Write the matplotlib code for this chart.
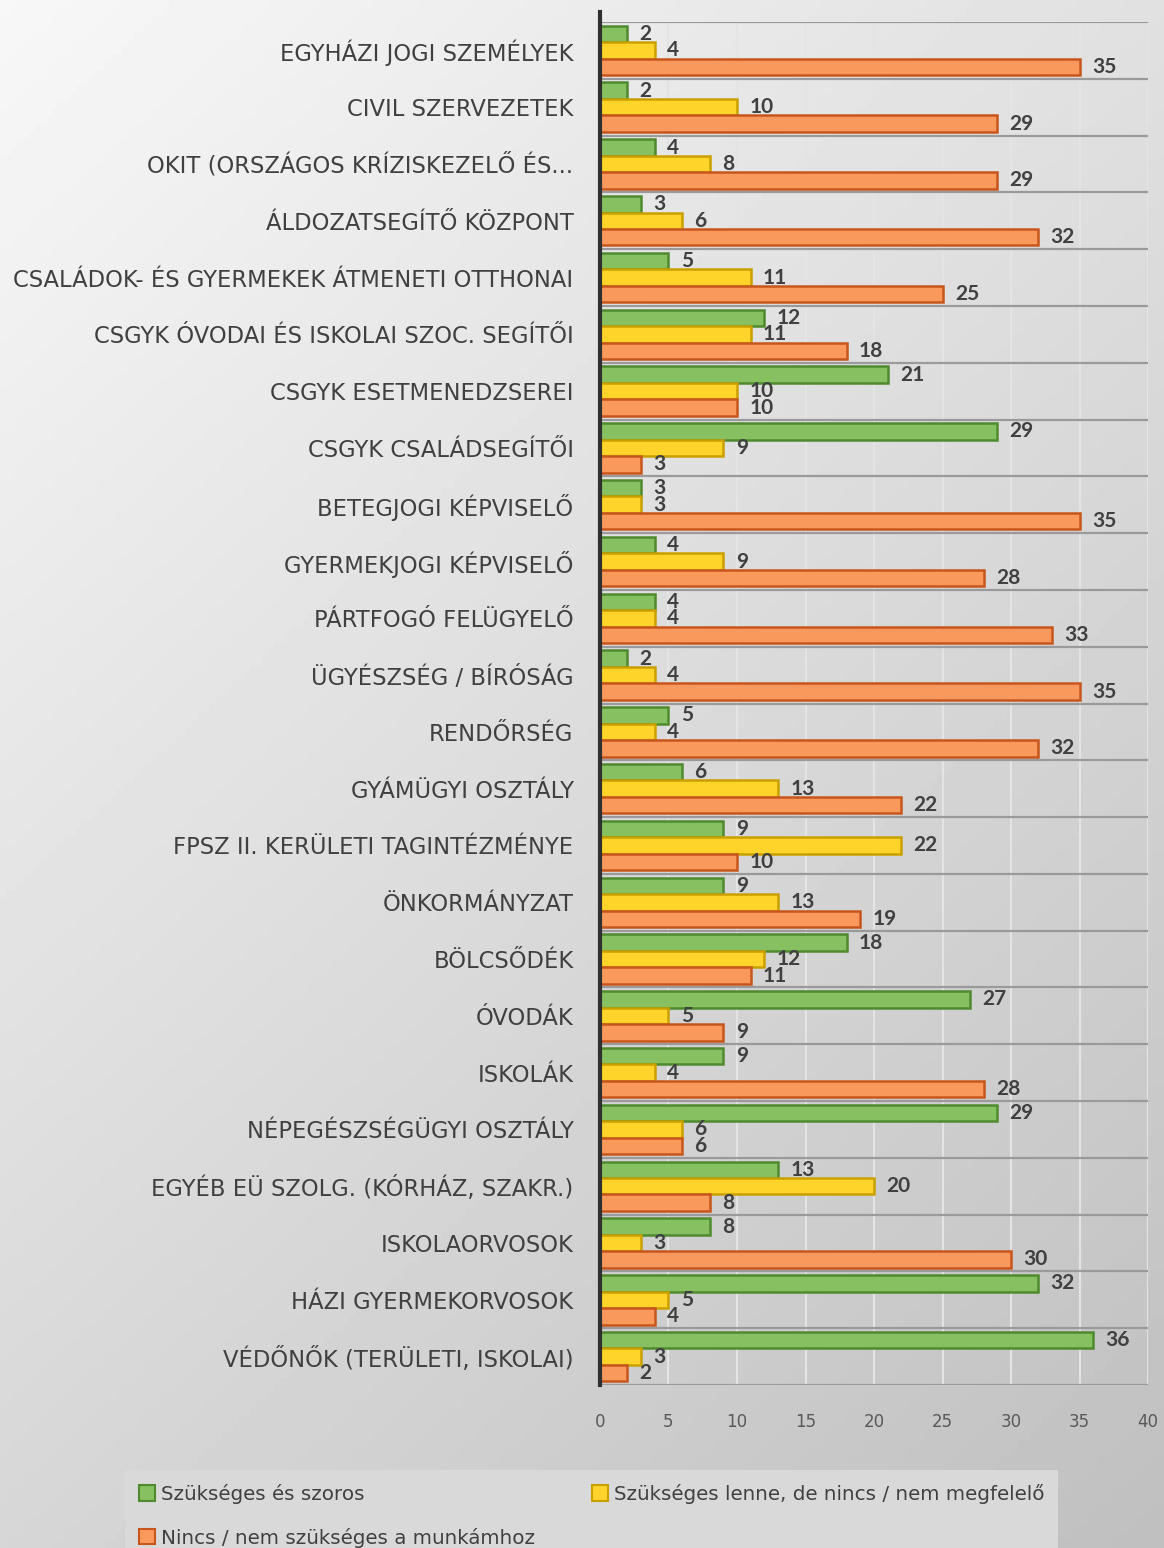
import numpy as np
import matplotlib
matplotlib.use("Agg")
import matplotlib.pyplot as plt
from matplotlib.patches import Patch

# data, top to bottom as in the chart
categories = [
    "EGYHÁZI JOGI SZEMÉLYEK",
    "CIVIL SZERVEZETEK",
    "OKIT (ORSZÁGOS KRÍZISKEZELŐ ÉS...",
    "ÁLDOZATSEGÍTŐ KÖZPONT",
    "CSALÁDOK- ÉS GYERMEKEK ÁTMENETI OTTHONAI",
    "CSGYK ÓVODAI ÉS ISKOLAI SZOC. SEGÍTŐI",
    "CSGYK ESETMENEDZSEREI",
    "CSGYK CSALÁDSEGÍTŐI",
    "BETEGJOGI KÉPVISELŐ",
    "GYERMEKJOGI KÉPVISELŐ",
    "PÁRTFOGÓ FELÜGYELŐ",
    "ÜGYÉSZSÉG / BÍRÓSÁG",
    "RENDŐRSÉG",
    "GYÁMÜGYI OSZTÁLY",
    "FPSZ II. KERÜLETI TAGINTÉZMÉNYE",
    "ÖNKORMÁNYZAT",
    "BÖLCSŐDÉK",
    "ÓVODÁK",
    "ISKOLÁK",
    "NÉPEGÉSZSÉGÜGYI OSZTÁLY",
    "EGYÉB EÜ SZOLG. (KÓRHÁZ, SZAKR.)",
    "ISKOLAORVOSOK",
    "HÁZI GYERMEKORVOSOK",
    "VÉDŐNŐK (TERÜLETI, ISKOLAI)",
]
szoros = [2, 2, 4, 3, 5, 12, 21, 29, 3, 4, 4, 2, 5, 6, 9, 9, 18, 27, 9, 29, 13, 8, 32, 36]
lenne = [4, 10, 8, 6, 11, 11, 10, 9, 3, 9, 4, 4, 4, 13, 22, 13, 12, 5, 4, 6, 20, 3, 5, 3]
nincs = [35, 29, 29, 32, 25, 18, 10, 3, 35, 28, 33, 35, 32, 22, 10, 19, 11, 9, 28, 6, 8, 30, 4, 2]
series_names = ["Szükséges és szoros",
                "Szükséges lenne, de nincs / nem megfelelő",
                "Nincs / nem szükséges a munkámhoz"]
face = ["#86c060", "#ffd42a", "#f99a5c"]
edge = ["#4f8a2f", "#c9a000", "#c8561c"]

label_font = ["DejaVu Sans"]

fig = plt.figure(figsize=(11.64, 15.48), dpi=100)

# gray gradient background
bg = fig.add_axes([0, 0, 1, 1], zorder=-5)
yy, xx = np.mgrid[0:1:200j, 0:1:200j]
grad = 0.97 - 0.13 * yy - 0.09 * xx
bg.imshow(grad, cmap="gray", vmin=0, vmax=1, aspect="auto", extent=[0, 1, 0, 1], origin="upper")
bg.axis("off")

ax = fig.add_axes([600 / 1164, 1 - 1385 / 1548, 548 / 1164, (1385 - 22) / 1548])
ax.patch.set_alpha(0)

y = np.arange(len(categories))
h = 0.29
for k, vals in enumerate([szoros, lenne, nincs]):
    pos = y + (k - 1) * h
    ax.barh(pos, vals, height=h, color=face[k], edgecolor=edge[k], linewidth=1.8, zorder=3)
    for p, v in zip(pos, vals):
        ax.text(v + 0.9, p, str(v), va="center", ha="left", fontsize=15,
                fontweight="bold", color="#404040", family="Lato", zorder=4)

ax.set_xlim(0, 40)
ax.set_ylim(len(categories) - 0.5, -0.5)
ax.set_xticks(range(0, 41, 5))
ax.set_yticks(y)
ax.set_yticklabels(categories, family=label_font, fontsize=16.3, color="#404040")
ax.tick_params(axis="y", length=0, pad=19)
ax.tick_params(axis="x", length=0, pad=20, labelsize=12, labelcolor="#595959")

for b in np.arange(-0.5, len(categories), 1):
    ax.axhline(b, color="#9a9a9a", linewidth=1.6, zorder=1)
for xv in range(5, 41, 5):
    ax.axvline(xv, color="#e4e4e4", linewidth=1.5, zorder=0)

for s in ["top", "right", "bottom"]:
    ax.spines[s].set_visible(False)
ax.spines["left"].set_color("#303030")
ax.spines["left"].set_linewidth(3)
ax.spines["left"].set_zorder(5)
ax.spines["left"].set_bounds(len(categories) - 0.5, -0.68)
ax.spines["left"].set_clip_on(False)

# ncol=2 fills columns first, so order handles to read row-wise
handles = [Patch(facecolor=face[k], edgecolor=edge[k], linewidth=1.5) for k in range(3)]
order = [0, 2, 1]
leg = fig.legend([handles[i] for i in order], [series_names[i] for i in order],
                 ncol=2, loc="upper left",
                 bbox_to_anchor=(125 / 1164, 1 - 1470 / 1548, 933 / 1164, 0.0),
                 mode="expand", fancybox=False, frameon=True, facecolor="#d9d9d9",
                 edgecolor="none", framealpha=1, borderaxespad=0, borderpad=0.7,
                 handlelength=0.8, handleheight=0.8, handletextpad=0.3,
                 labelspacing=1.2, prop={"family": label_font, "size": 14.3})
for t in leg.get_texts():
    t.set_color("#404040")

fig.savefig("out.png", dpi=100)
